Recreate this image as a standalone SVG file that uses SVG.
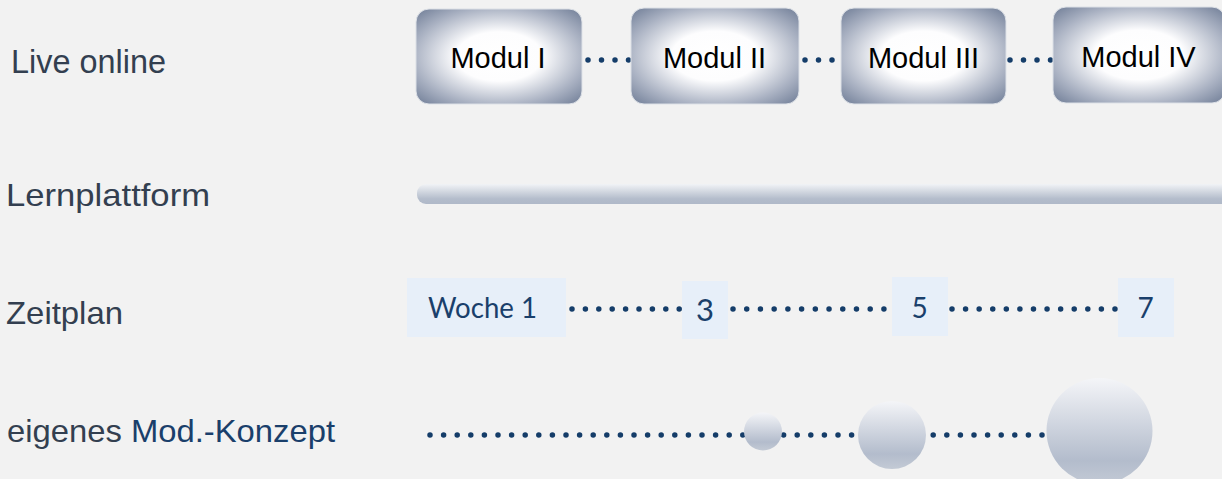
<svg xmlns="http://www.w3.org/2000/svg" width="1222" height="479" viewBox="0 0 1222 479">
<defs>
<radialGradient id="boxGrad" cx="0.5" cy="0.5" r="0.72">
<stop offset="0" stop-color="#ffffff"/>
<stop offset="0.36" stop-color="#fdfdfe"/>
<stop offset="0.72" stop-color="#a9b1c2"/>
<stop offset="1" stop-color="#6a7892"/>
</radialGradient>
<linearGradient id="barGrad" x1="0" y1="0" x2="0" y2="1">
<stop offset="0" stop-color="#f1f3f6"/>
<stop offset="0.75" stop-color="#b3bccb"/>
<stop offset="1" stop-color="#b0b9c9"/>
</linearGradient>
<linearGradient id="ballGrad" x1="0" y1="0" x2="0" y2="1">
<stop offset="0" stop-color="#f4f5f8"/>
<stop offset="0.78" stop-color="#b3bccc"/>
<stop offset="1" stop-color="#c3cad5"/>
</linearGradient>
</defs>
<style>
.lbl{font-family:"Liberation Sans",Arial,sans-serif;fill:#333f50;}
.blue{fill:#1a3f6b;}
.box{fill:url(#boxGrad);stroke:#dde1e7;stroke-width:1;}
.mtxt{font-family:"Liberation Sans",Arial,sans-serif;font-size:29px;fill:#000;text-anchor:middle;}
.wk{fill:#e7eff9;}
.wtxt{font-family:Lato,"Liberation Sans",sans-serif;fill:#1a3f6b;text-anchor:middle;}
.dots{fill:none;stroke:#153d69;stroke-width:5.5;stroke-linecap:round;}
.ball{fill:url(#ballGrad);}
</style>
<rect width="1222" height="479" fill="#f2f2f2"/>

<g id="labels">
<text class="lbl" x="11" y="73" font-size="34" textLength="155" lengthAdjust="spacingAndGlyphs">Live online</text>
<text class="lbl" x="6" y="206" font-size="32" textLength="204" lengthAdjust="spacingAndGlyphs">Lernplattform</text>
<text class="lbl" x="6" y="324" font-size="32" textLength="117" lengthAdjust="spacingAndGlyphs">Zeitplan</text>
<text class="lbl" x="7" y="442" font-size="32" textLength="328" lengthAdjust="spacingAndGlyphs">eigenes <tspan class="blue">Mod.-Konzept</tspan></text>
</g>

<g id="connectors">
<line class="dots" x1="588" y1="60" x2="629" y2="60" stroke-dasharray="0 13.5"/>
<line class="dots" x1="805" y1="60" x2="833" y2="60" stroke-dasharray="0 13.5"/>
<line class="dots" x1="1010" y1="60" x2="1051" y2="60" stroke-dasharray="0 13.5"/>
<line class="dots" x1="572" y1="309" x2="680" y2="309" stroke-dasharray="0 13.4"/>
<line class="dots" x1="733" y1="309" x2="885" y2="309" stroke-dasharray="0 13.72"/>
<line class="dots" x1="952" y1="309" x2="1116" y2="309" stroke-dasharray="0 13.58"/>
<line class="dots" x1="430" y1="435" x2="1043" y2="435" stroke-dasharray="0 13.6"/>
</g>

<g id="modul1"><rect class="box" x="416" y="9" width="166" height="95" rx="13"/><text class="mtxt" x="498" y="68">Modul I</text></g>
<g id="modul2"><rect class="box" x="631" y="8" width="168" height="96" rx="13"/><text class="mtxt" x="714.5" y="68">Modul II</text></g>
<g id="modul3"><rect class="box" x="841" y="8" width="165" height="96" rx="13"/><text class="mtxt" x="923.5" y="68">Modul III</text></g>
<g id="modul4"><rect class="box" x="1053" y="7" width="172" height="96" rx="13"/><text class="mtxt" x="1138.5" y="67">Modul IV</text></g>

<g id="lernplattform"><rect x="417" y="184" width="815" height="20" rx="9" fill="url(#barGrad)"/></g>

<g id="woche1"><rect class="wk" x="407" y="278" width="159" height="59"/><text class="wtxt" x="482.5" y="318" font-size="28" textLength="109" lengthAdjust="spacingAndGlyphs">Woche 1</text></g>
<g id="woche3"><rect class="wk" x="682" y="281" width="46" height="58"/><text class="wtxt" x="705" y="321" font-size="31">3</text></g>
<g id="woche5"><rect class="wk" x="892" y="277" width="56" height="59"/><text class="wtxt" x="919.5" y="318" font-size="28">5</text></g>
<g id="woche7"><rect class="wk" x="1118" y="278" width="56" height="59"/><text class="wtxt" x="1145.5" y="318" font-size="28">7</text></g>

<g id="ball1"><circle class="ball" cx="763" cy="431.5" r="19"/></g>
<g id="ball2"><circle class="ball" cx="892" cy="435" r="34"/></g>
<g id="ball3"><circle class="ball" cx="1099.5" cy="431" r="53"/></g>
</svg>
